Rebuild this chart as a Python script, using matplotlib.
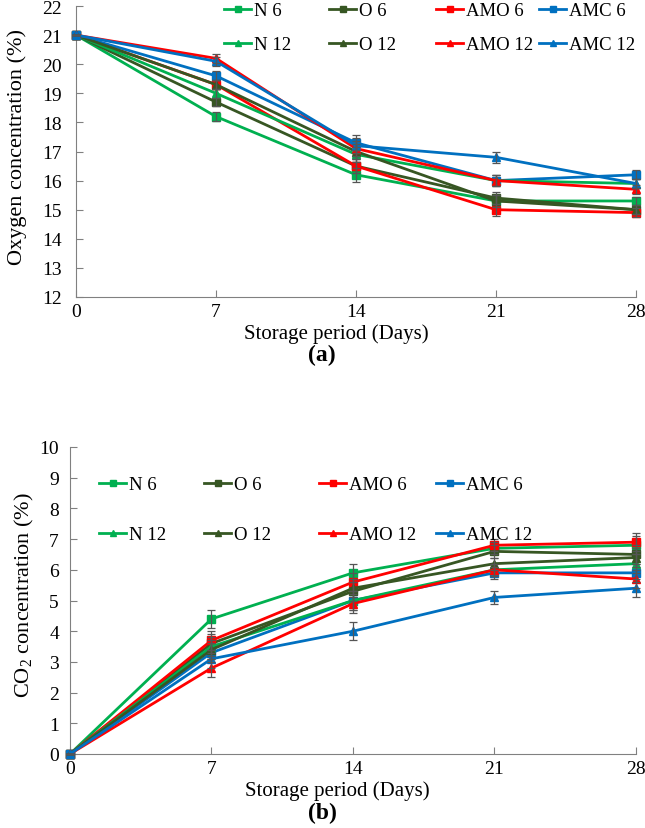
import matplotlib
matplotlib.use("Agg")
import matplotlib.pyplot as plt
from matplotlib.legend import Legend

days = [0, 7, 14, 21, 28]
labels = ["N 6", "O 6", "AMO 6", "AMC 6", "N 12", "O 12", "AMO 12", "AMC 12"]
colors = ["#00B050", "#375623", "#FF0000", "#0070C0", "#00B050", "#375623", "#FF0000", "#0070C0"]
markers = ["s", "s", "s", "s", "^", "^", "^", "^"]

# Oxygen (%)
o2_N6 = [21.0, 18.2, 16.2, 15.3, 15.3]
o2_O6 = [21.0, 18.7, 16.5, 15.4, 15.0]
o2_AMO6 = [21.0, 19.3, 16.5, 15.0, 14.9]
o2_AMC6 = [21.0, 19.6, 17.3, 16.0, 16.2]
o2_N12 = [21.0, 19.0, 16.9, 16.0, 15.9]
o2_O12 = [21.0, 19.3, 17.0, 15.3, 15.0]
o2_AMO12 = [21.0, 20.2, 17.1, 16.0, 15.7]
o2_AMC12 = [21.0, 20.1, 17.2, 16.8, 15.9]
o2_err = [0.0, 0.15, 0.25, 0.2, 0.15]

# CO2 (%)
co2_N6 = [0.0, 4.4, 5.9, 6.7, 6.8]
co2_O6 = [0.0, 3.6, 5.3, 6.6, 6.5]
co2_AMO6 = [0.0, 3.7, 5.6, 6.8, 6.9]
co2_AMC6 = [0.0, 3.3, 5.0, 5.9, 5.9]
co2_N12 = [0.0, 3.5, 5.0, 6.0, 6.2]
co2_O12 = [0.0, 3.4, 5.4, 6.2, 6.4]
co2_AMO12 = [0.0, 2.8, 4.9, 6.0, 5.7]
co2_AMC12 = [0.0, 3.1, 4.0, 5.1, 5.4]
co2_err = [0.0, 0.3, 0.3, 0.2, 0.3]

o2_series = [o2_N6, o2_O6, o2_AMO6, o2_AMC6, o2_N12, o2_O12, o2_AMO12, o2_AMC12]
co2_series = [co2_N6, co2_O6, co2_AMO6, co2_AMC6, co2_N12, co2_O12, co2_AMO12, co2_AMC12]

plt.rcParams['font.family'] = ['Liberation Serif', 'DejaVu Serif']
plt.rcParams['mathtext.fontset'] = 'custom'
plt.rcParams['mathtext.rm'] = 'Liberation Serif'
plt.rcParams['mathtext.it'] = 'Liberation Serif:italic'
plt.rcParams['mathtext.bf'] = 'Liberation Serif:bold'
W, H = 645, 829
fig = plt.figure(figsize=(W / 100, H / 100), dpi=100)

def fig_rect(l, t, r, b):
    return [l / W, 1 - b / H, (r - l) / W, (b - t) / H]

ax1 = fig.add_axes(fig_rect(76, 7, 636, 298))
ax2 = fig.add_axes(fig_rect(70, 448, 636, 755))

def draw(ax, series, err, ylim, yticks, ylabel, ypad, ylab_x, xlab_x,
         leg_x, leg_top, leg_spacing):
    handles = []
    for s, lab, c, m in zip(series, labels, colors, markers):
        h, = ax.plot(days, s, color=c, marker=m, markersize=6, lw=2, label=lab,
                     clip_on=False, zorder=3)
        ax.errorbar(days, s, yerr=err, fmt="none", ecolor="#555555",
                    elinewidth=0.9, capsize=3, capthick=0.9, zorder=4, clip_on=False)
        handles.append(h)
    ax.set_xlim(0, 28)
    ax.set_ylim(*ylim)
    ax.set_xticks(days)
    ax.set_yticks(yticks)
    for sp in ["top", "right"]:
        ax.spines[sp].set_visible(False)
    for sp in ["left", "bottom"]:
        ax.spines[sp].set_color("#808080")
    ax.tick_params(direction="in", length=5, color="#808080", labelsize=14)
    ax.tick_params(axis="x", pad=4)
    ax.tick_params(axis="y", pad=ypad)
    ax.set_xlabel("Storage period (Days)", fontsize=15)
    ax.xaxis.set_label_coords(xlab_x, -26 / ax.bbox.height)
    ax.set_ylabel(ylabel, fontsize=16)
    ax.yaxis.set_label_coords(ylab_x, 0.52)
    # legend: four equal-width columns, 6-series on first row, 12-series on second
    for col in range(4):
        leg = Legend(ax, [handles[col], handles[col + 4]], [labels[col], labels[col + 4]],
                     loc="upper left", bbox_to_anchor=(leg_x[col] / W, 1 - leg_top / H),
                     bbox_transform=fig.transFigure, frameon=False, fontsize=13.5,
                     borderpad=0, borderaxespad=0, handlelength=1.45,
                     handletextpad=0.15, labelspacing=leg_spacing, markerscale=0.7)
        ax.add_artist(leg)

draw(ax1, o2_series, o2_err, (12, 22), range(12, 23), "Oxygen concentration (%)",
     10, -0.088, 0.464, [224, 329, 436, 539], 3, 0.9)
draw(ax2, co2_series, co2_err, (0, 10), range(0, 11), "CO$_2$ concentration (%)",
     8, -0.06, 0.473, [99, 204, 319, 436], 477, 1.75)

fig.text(322 / W, 1 - 355 / H, "(a)", ha="center", va="center", fontsize=17, fontweight="bold")
fig.text(322 / W, 1 - 813 / H, "(b)", ha="center", va="center", fontsize=17, fontweight="bold")

fig.savefig("out.png", dpi=100)
